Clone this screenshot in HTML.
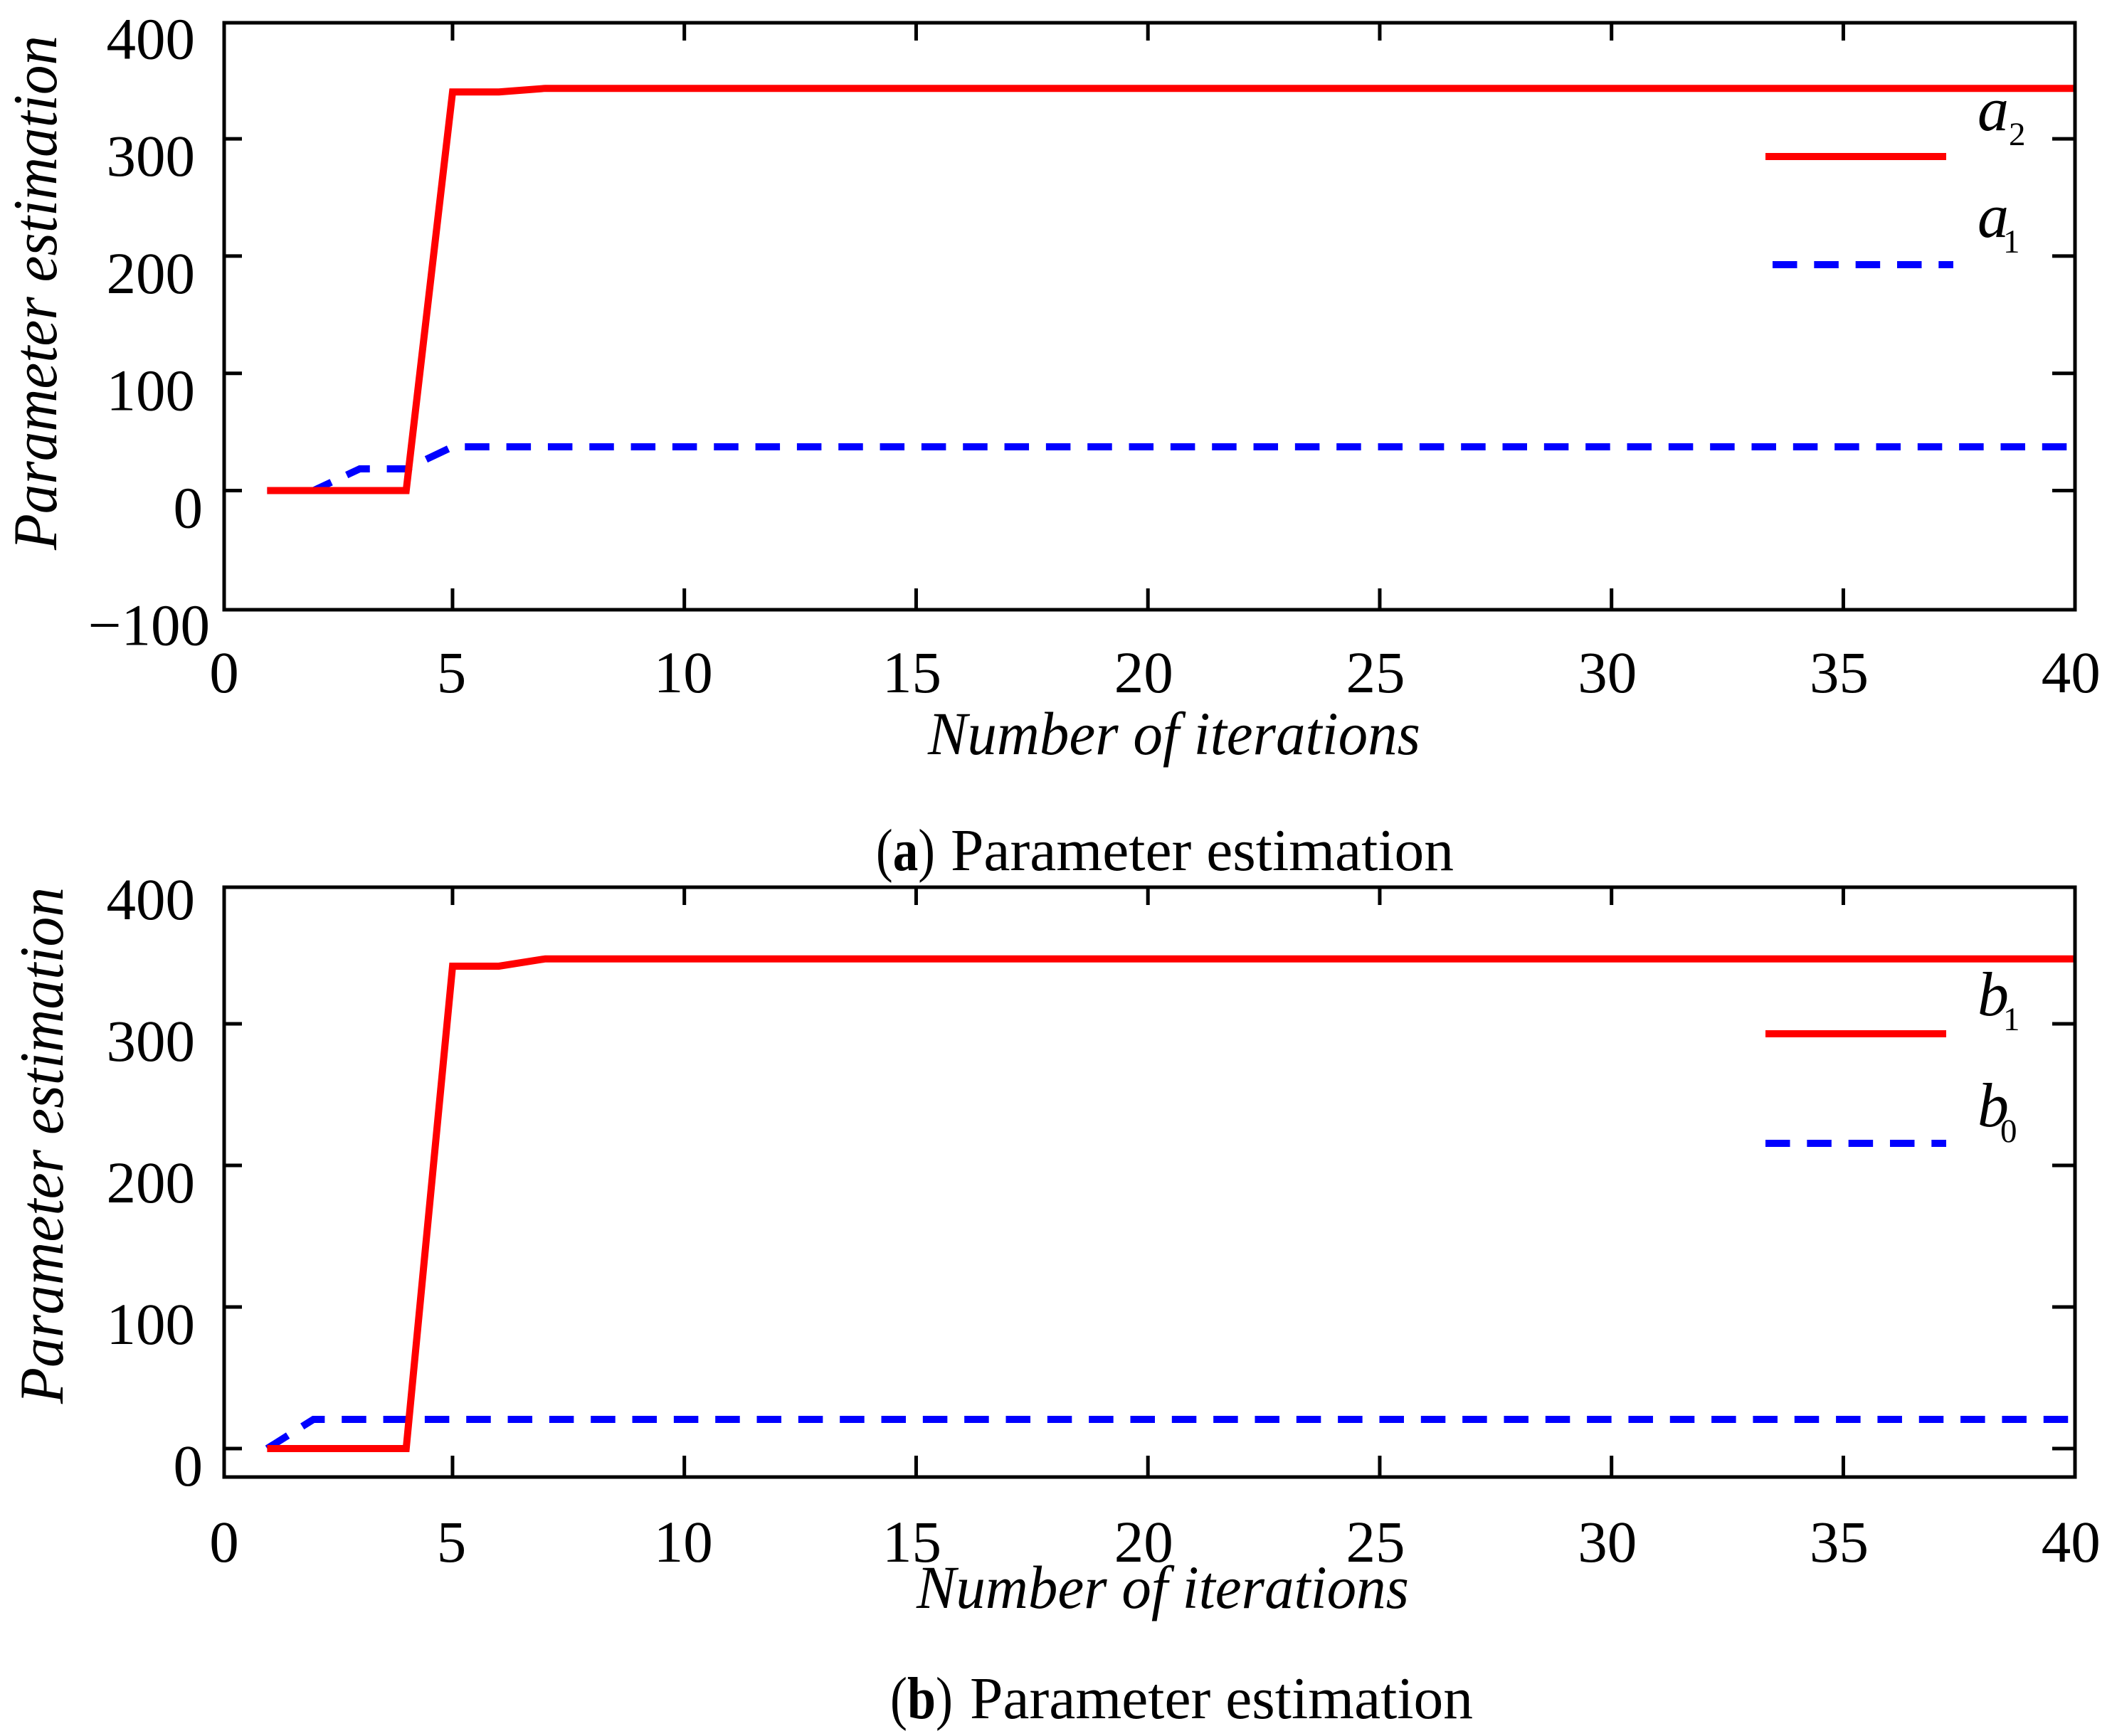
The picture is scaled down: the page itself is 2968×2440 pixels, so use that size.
<!DOCTYPE html>
<html lang="en">
<head>
<meta charset="utf-8">
<title>Parameter estimation</title>
<style>
html,body{margin:0;padding:0;background:#fff;width:2968px;height:2440px;overflow:hidden}
svg{display:block}
text{font-family:"Liberation Serif","Times New Roman",serif;fill:#000}
</style>
</head>
<body>
<svg id="figure" xmlns="http://www.w3.org/2000/svg" width="2968" height="2440" viewBox="0 0 2968 2440"></svg>
<script>
const iterations = [1,2,3,4,5,6,7,8,9,10,11,12,13,14,15,16,17,18,19,20,21,22,23,24,25,26,27,28,29,30,31,32,33,34,35,36,37,38,39,40];
const seriesA2 = [0,0,0,0,340,340,343,343,343,343,343,343,343,343,343,343,343,343,343,343,343,343,343,343,343,343,343,343,343,343,343,343,343,343,343,343,343,343,343,343];
const seriesA1 = [0,0,18.5,18.5,37.3,37.3,37.3,37.3,37.3,37.3,37.3,37.3,37.3,37.3,37.3,37.3,37.3,37.3,37.3,37.3,37.3,37.3,37.3,37.3,37.3,37.3,37.3,37.3,37.3,37.3,37.3,37.3,37.3,37.3,37.3,37.3,37.3,37.3,37.3,37.3];
const seriesB1 = [0,0,0,0,340.7,340.7,345.9,345.9,345.9,345.9,345.9,345.9,345.9,345.9,345.9,345.9,345.9,345.9,345.9,345.9,345.9,345.9,345.9,345.9,345.9,345.9,345.9,345.9,345.9,345.9,345.9,345.9,345.9,345.9,345.9,345.9,345.9,345.9,345.9,345.9];
const seriesB0 = [0,20.6,20.6,20.6,20.6,20.6,20.6,20.6,20.6,20.6,20.6,20.6,20.6,20.6,20.6,20.6,20.6,20.6,20.6,20.6,20.6,20.6,20.6,20.6,20.6,20.6,20.6,20.6,20.6,20.6,20.6,20.6,20.6,20.6,20.6,20.6,20.6,20.6,20.6,20.6];
const xTicks = [0,5,10,15,20,25,30,35,40];
const yTicksA = [-100,0,100,200,300,400];
const yTicksB = [0,100,200,300,400];

const svg = document.getElementById('figure');
const NS = 'http://www.w3.org/2000/svg';
const FRAME_LEFT = 315, FRAME_RIGHT = 2916;
const DASH = '34.5 23.83';
const TICK_FONT = 83;

function mk(tag, parent, attrs, content) {
  const el = document.createElementNS(NS, tag);
  for (const k in attrs) el.setAttribute(k, attrs[k]);
  if (content !== undefined) el.textContent = content;
  parent.appendChild(el);
  return el;
}
function xScale(v) { return 310.2 + 65.15 * v; }

function drawPanel(cfg) {
  const y = v => cfg.y0 - cfg.yUnit * v;
  const g = mk('g', svg, {});
  
  

  // series
  const pts = vals => vals.map((v, i) => xScale(iterations[i]).toFixed(1) + ',' + y(v).toFixed(1)).join(' ');
  const dashed = mk('polyline', g, {points: pts(cfg.blue), fill: 'none', stroke: '#0000ff', 'stroke-width': 10, 'stroke-dasharray': DASH});
  
  
  const solid = mk('polyline', g, {points: pts(cfg.red), fill: 'none', stroke: '#ff0000', 'stroke-width': 10, 'stroke-linejoin': 'miter'});
  
  

  // frame
  const frame = mk('rect', g, {x: FRAME_LEFT, y: cfg.top, width: FRAME_RIGHT - FRAME_LEFT, height: cfg.bottom - cfg.top, fill: 'none', stroke: '#000', 'stroke-width': 5});
  
  

  // x ticks
  xTicks.forEach(v => {
    const px = xScale(v);
    if (v > 0 && v < 40) {
      const t1 = mk('line', g, {x1: px, x2: px, y1: cfg.top, y2: cfg.top + 25, stroke: '#000', 'stroke-width': 5});
      
      
      const t2 = mk('line', g, {x1: px, x2: px, y1: cfg.bottom, y2: cfg.bottom - 30, stroke: '#000', 'stroke-width': 5});
      
      
    }
    const lx = v === 0 ? FRAME_LEFT : (v <= 10 ? px - 1.5 : px - 6);
    const lab = mk('text', g, {x: lx, y: cfg.xLabelY, 'font-size': TICK_FONT, 'text-anchor': 'middle'}, String(v));
    
    
  });

  // y ticks
  cfg.yTicks.forEach(v => {
    const py = y(v);
    if (py > cfg.top + 10 && py < cfg.bottom - 10) {
      const t1 = mk('line', g, {x1: FRAME_LEFT, x2: FRAME_LEFT + 25, y1: py, y2: py, stroke: '#000', 'stroke-width': 5});
      
      
      const t2 = mk('line', g, {x1: FRAME_RIGHT, x2: FRAME_RIGHT - 32, y1: py, y2: py, stroke: '#000', 'stroke-width': 5});
      
      
    }
    const right = v === -100 ? 295 : (v === 0 ? 285 : 274);
    const txt = v < 0 ? '\u2212' + Math.abs(v) : String(v);
    const lab = mk('text', g, {x: right, y: py + 52, 'font-size': TICK_FONT, 'text-anchor': 'end'}, txt);
    
    
  });

  // axis titles
  const yt = mk('text', g, {transform: 'translate(' + cfg.yTitleX + ',' + cfg.yTitleBottom + ') rotate(-90)', 'font-size': 88, 'font-style': 'italic', textLength: cfg.yTitleLen, lengthAdjust: 'spacingAndGlyphs'}, 'Parameter estimation');
  
  
  const xt = mk('text', g, {x: cfg.xTitleX, y: cfg.xTitleY, 'font-size': 86, 'font-style': 'italic', textLength: 692, lengthAdjust: 'spacingAndGlyphs'}, 'Number of iterations');
  
  

  // legend
  const lr = mk('line', g, {x1: 2481, x2: 2735, y1: cfg.legRedY, y2: cfg.legRedY, stroke: '#ff0000', 'stroke-width': 10});
  
  
  const lb = mk('line', g, {x1: cfg.legBlueX, x2: cfg.legBlueX + 254, y1: cfg.legBlueY, y2: cfg.legBlueY, stroke: '#0000ff', 'stroke-width': 10, 'stroke-dasharray': DASH});
  
  

  const e1 = mk('text', g, {x: 2779, y: cfg.legRedText, 'font-size': 88, 'font-style': 'italic'}, cfg.redSym);
  
  
  const s1 = mk('text', g, {x: cfg.redSubX, y: cfg.legRedText + 21, 'font-size': 47}, cfg.redSub);
  
  
  const e2 = mk('text', g, {x: 2779, y: cfg.legBlueText, 'font-size': 88, 'font-style': 'italic'}, cfg.blueSym);
  
  
  const s2 = mk('text', g, {x: cfg.blueSubX, y: cfg.legBlueText + 22, 'font-size': 47}, cfg.blueSub);
  
  

  // caption
  const capTag = mk('text', g, {x: cfg.capX, y: cfg.capY, 'font-size': 84, textLength: cfg.capTagLen, lengthAdjust: 'spacingAndGlyphs'});
  
  
  mk('tspan', capTag, {}, '(');
  mk('tspan', capTag, {'font-weight': 'bold'}, cfg.capLetter);
  mk('tspan', capTag, {}, ')');
  const capText = mk('text', g, {x: cfg.capTextX, y: cfg.capY, 'font-size': 84, textLength: 707, lengthAdjust: 'spacingAndGlyphs'}, 'Parameter estimation');
  
  
}

drawPanel({
  name: 'panel-a', top: 32, bottom: 857, y0: 689.5, yUnit: 1.648, yTicks: yTicksA,
  red: seriesA2, blue: seriesA1, redName: 'a2', blueName: 'a1',
  redSym: 'a', redSub: '2', blueSym: 'a', blueSub: '1', redSubX: 2823, blueSubX: 2815,
  legRedY: 220, legBlueY: 372, legBlueX: 2491, legRedText: 183, legBlueText: 333,
  xLabelY: 973, yTitleX: 79, yTitleBottom: 773, yTitleLen: 723,
  xTitleX: 1304, xTitleY: 1060, capX: 1231, capTextX: 1336, capY: 1223, capTagLen: 83, capLetter: 'a'
});
drawPanel({
  name: 'panel-b', top: 1247, bottom: 2076, y0: 2036, yUnit: 1.99, yTicks: yTicksB,
  red: seriesB1, blue: seriesB0, redName: 'b1', blueName: 'b0',
  redSym: 'b', redSub: '1', blueSym: 'b', blueSub: '0', redSubX: 2815, blueSubX: 2811,
  legRedY: 1453, legBlueY: 1607, legBlueX: 2481, legRedText: 1427, legBlueText: 1583,
  xLabelY: 2195, yTitleX: 88, yTitleBottom: 1973, yTitleLen: 726,
  xTitleX: 1288, xTitleY: 2260, capX: 1251, capTextX: 1363, capY: 2415, capTagLen: 88, capLetter: 'b'
});
</script>
</body>
</html>
